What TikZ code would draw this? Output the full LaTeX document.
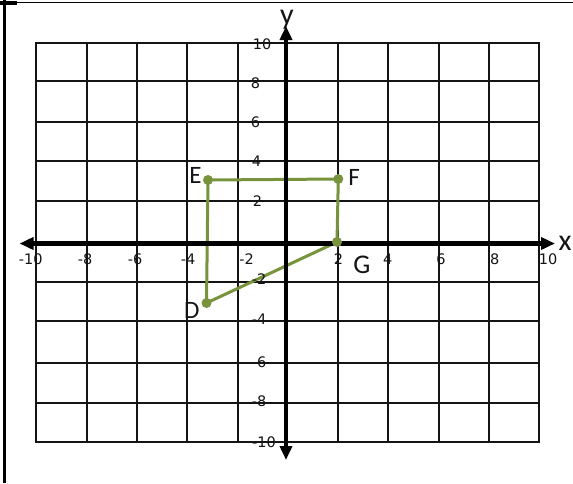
\documentclass[tikz,border=0pt]{standalone}
\usepackage{fontspec}
\setmainfont{DejaVu Sans}
\newfontfamily\lblfont{Carlito}
\usetikzlibrary{arrows.meta}
\definecolor{olivegr}{RGB}{119,147,60}
\definecolor{ink}{RGB}{20,20,20}
\begin{document}
\begin{tikzpicture}[x=1pt,y=-1pt,
  gridline/.style={line width=1.7pt, draw=ink, line cap=rect},
  axisline/.style={line width=4.2pt, draw=black,
    {Triangle[length=14pt,width=12pt]}-{Triangle[length=14pt,width=12pt]}},
  figline/.style={line width=3pt, draw=olivegr, line join=round},
  vertex/.style={circle, fill=olivegr, inner sep=0pt, minimum size=10pt},
  ticklbl/.style={font=\fontsize{14.5}{15}\selectfont, text=ink, inner sep=0pt},
  ptlabel/.style={font=\lblfont\fontsize{25}{26}\selectfont, text=ink, inner sep=0pt, anchor=base},
  axlabel/.style={font=\lblfont\fontsize{30}{30}\selectfont, text=ink, inner sep=0pt, anchor=base}]
\useasboundingbox (0,0) rectangle (573,483);
\fill[white] (0,0) rectangle (573,483);
% frame
\draw[line width=3pt] (4.5,0) -- (4.5,483);
\draw[line width=1.6pt] (0,2.5) -- (573,2.5);
\fill (0,1) rectangle (17,5);
% grid
\foreach \gx in {35.7,86.7,136.7,187.3,237.7,286,338.3,388.3,438.7,488.7,538.7}
  \draw[gridline] (\gx,42.7) -- (\gx,442);
\foreach \gy in {42.7,81,122,161.3,201.3,243.5,282.3,320.7,362.7,403.3,442}
  \draw[gridline] (35.7,\gy) -- (538.7,\gy);
% figure
\coordinate (E) at (208,180);
\coordinate (F) at (338.3,179);
\coordinate (G) at (337,242);
\coordinate (D) at (206.5,303);
\draw[figline] (E) -- (F) -- (G) -- (D) -- cycle;
% axes
\coordinate (xl) at (19.5,243.5);
\coordinate (xr) at (555,243.5);
\coordinate (yt) at (286,26);
\coordinate (yb) at (286,460);
\draw[axisline] (xl) -- (xr);
\draw[axisline] (yb) -- (yt);
% vertices
\node[vertex] (vE) at (E) {};
\node[vertex] (vF) at (F) {};
\node[vertex] (vG) at (G) {};
\node[vertex] (vD) at (D) {};
% x tick labels
\node[ticklbl] (tx1) at (30.7,259) {-10};
\node[ticklbl] (tx2) at (85,259) {-8};
\node[ticklbl] (tx3) at (135,259) {-6};
\node[ticklbl] (tx4) at (188,259) {-4};
\node[ticklbl] (tx5) at (246.7,259) {-2};
\node[ticklbl] (tx6) at (338.5,259) {2};
\node[ticklbl] (tx7) at (387.7,259) {4};
\node[ticklbl] (tx8) at (441,259) {6};
\node[ticklbl] (tx9) at (494.7,259) {8};
\node[ticklbl] (tx10) at (548,259) {10};
% y tick labels
\node[ticklbl] (ty1) at (262,44) {10};
\node[ticklbl] (ty2) at (255.5,83) {8};
\node[ticklbl] (ty3) at (255.5,122.5) {6};
\node[ticklbl] (ty4) at (256.5,161.5) {4};
\node[ticklbl] (ty5) at (257.5,201) {2};
\node[ticklbl] (ty6) at (259,279) {-2};
\node[ticklbl] (ty7) at (259,319) {-4};
\node[ticklbl] (ty8) at (259,362) {-6};
\node[ticklbl] (ty9) at (259,401) {-8};
\node[ticklbl] (ty10) at (264,442.5) {-10};
% point labels
\node[ptlabel] (lE) at (195.5,183) {E};
\node[ptlabel] (lF) at (354,185.5) {F};
\node[ptlabel,font=\lblfont\fontsize{27}{28}\selectfont] (lG) at (362,273.5) {G};
\node[ptlabel] (lD) at (191.7,318.5) {D};
% axis labels
\node[axlabel] (lx) at (565,250) {x};
\node[axlabel] (ly) at (287,24) {y};
\end{tikzpicture}
\end{document}
